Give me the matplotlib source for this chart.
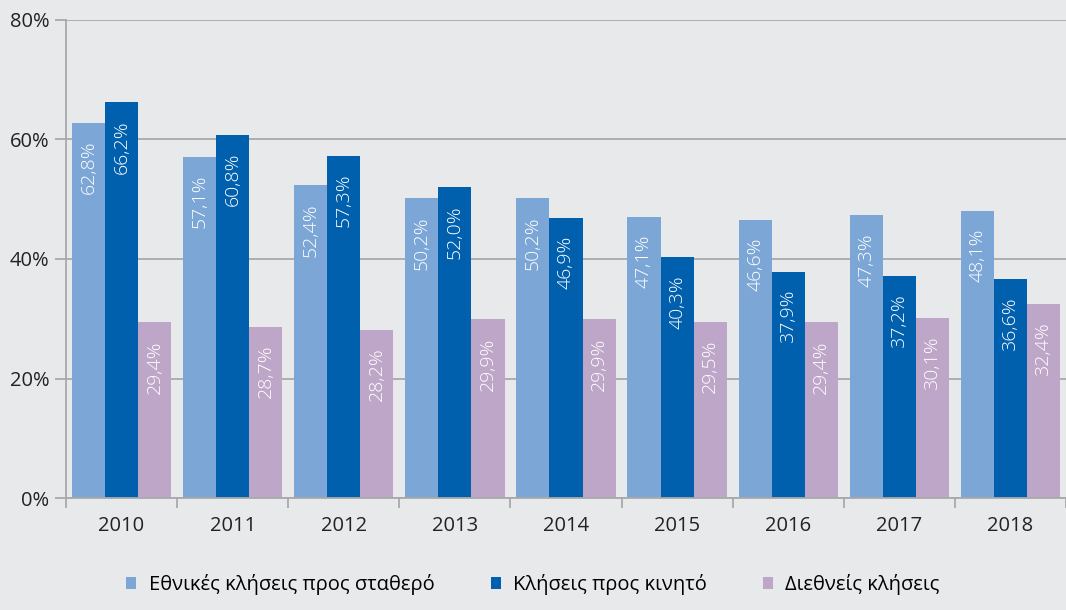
import numpy as np
import matplotlib.pyplot as plt
from matplotlib.ticker import MultipleLocator, FuncFormatter

years = ["2010", "2011", "2012", "2013", "2014", "2015", "2016", "2017", "2018"]
national_fixed = [62.8, 57.1, 52.4, 50.2, 50.2, 47.1, 46.6, 47.3, 48.1]
to_mobile = [66.2, 60.8, 57.3, 52.0, 46.9, 40.3, 37.9, 37.2, 36.6]
international = [29.4, 28.7, 28.2, 29.9, 29.9, 29.5, 29.4, 30.1, 32.4]
series_names = ["Εθνικές κλήσεις προς σταθερό", "Κλήσεις προς κινητό", "Διεθνείς κλήσεις"]
colours = ["#7ba6d6", "#0060ae", "#bea6c8"]

bg = "#e8e9eb"
plt.rcParams['font.family'] = ['Open Sans', 'DejaVu Sans']

fig = plt.figure(figsize=(10.66, 6.10), dpi=100, facecolor=bg)
ax = fig.add_axes([66 / 1066, 1 - 498 / 610, 1000 / 1066, 478 / 610], facecolor=bg)

x = np.arange(len(years))
w = 0.298
for i, (vals, name, col) in enumerate(zip([national_fixed, to_mobile, international], series_names, colours)):
    pos = x + (i - 1) * w
    ax.bar(pos, vals, width=w, color=col, label=name, zorder=2)
    for xp, v in zip(pos, vals):
        ax.annotate("{:.1f}%".format(v).replace(".", ","), (xp, v), xytext=(0, -13),
                    textcoords="offset points", rotation=90, ha="center", va="top",
                    color="white", fontsize=14, fontweight="light", zorder=3)

ax.set_xlim(-0.5, len(years) - 0.5)
ax.set_ylim(0, 80)
ax.yaxis.set_major_locator(MultipleLocator(20))
ax.yaxis.set_major_formatter(FuncFormatter(lambda v, p: "{:.0f}%".format(v)))
ax.grid(axis="y", color="#a8a9ab", linewidth=1.3, zorder=0)
ax.set_axisbelow(True)

ax.set_xticks(x)
ax.set_xticklabels(years, fontsize=14.5)
ax.set_xticks(np.arange(len(years) + 1) - 0.5, minor=True)
ax.tick_params(axis="x", which="major", length=0, pad=13, colors="#222222")
ax.tick_params(axis="x", which="minor", length=7, color="#a8a9ab", width=1.3)
ax.tick_params(axis="y", length=8, color="#a8a9ab", width=1.3, labelsize=14.5, pad=4,
               labelcolor="#222222")

for s in ["top", "right"]:
    ax.spines[s].set_visible(False)
for s in ["left", "bottom"]:
    ax.spines[s].set_color("#a8a9ab")
    ax.spines[s].set_linewidth(1.3)

fig.legend(loc="lower center", bbox_to_anchor=(0.5, -0.005), ncol=3, frameon=False,
           fontsize=14.5, handlelength=0.5, handleheight=0.5, columnspacing=2.8,
           handletextpad=0.6)

plt.savefig("out.png", dpi=100, facecolor=bg)
